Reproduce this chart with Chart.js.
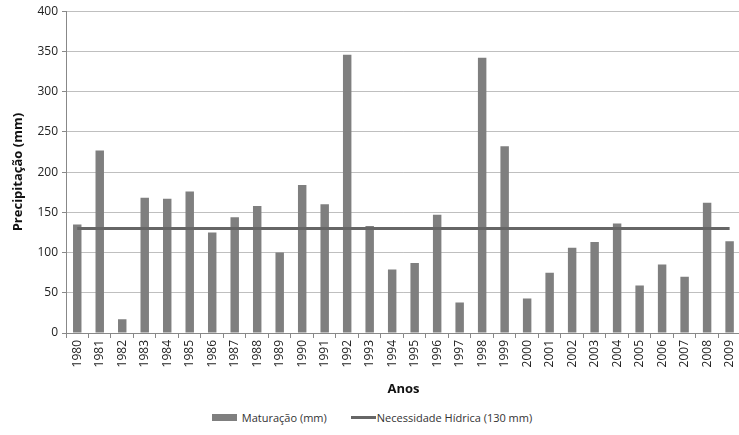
<!DOCTYPE html>
<html>
<head>
<meta charset="utf-8">
<script src="https://cdn.jsdelivr.net/npm/chart.js@4"></script>
<style>
  html, body { margin: 0; padding: 0; background: #fff; overflow: hidden; }
  #wrap { position: relative; width: 746px; height: 400px; }
  #legend {
    position: absolute; left: 0; top: 410px; width: 744px;
    display: flex; justify-content: center; align-items: center;
    font-family: "Open Sans", "Liberation Sans", sans-serif; font-size: 11px; color: #333;
  }
  .legend-item { display: flex; align-items: center; margin: 0 12px; }
</style>
</head>
<body>
<div id="wrap"><canvas id="chuvaChart" width="746" height="400"></canvas></div>
<div id="legend"></div>
<script>
// dados
const anos = ['1980', '1981', '1982', '1983', '1984', '1985', '1986', '1987', '1988', '1989',
  '1990', '1991', '1992', '1993', '1994', '1995', '1996', '1997', '1998', '1999',
  '2000', '2001', '2002', '2003', '2004', '2005', '2006', '2007', '2008', '2009'];
const maturacao = [135, 227, 17, 168, 167, 176, 125, 144, 158, 100,
  184, 160, 346, 133, 79, 87, 147, 38, 342, 232,
  43, 75, 106, 113, 136, 59, 85, 70, 162, 114];
const necessidade = anos.map(() => 130);
const yTicks = [0, 50, 100, 150, 200, 250, 300, 350, 400];

const barColor = '#7f7f7f';
const lineColor = '#666666';
const fontFam = '"Open Sans", "Liberation Sans", sans-serif';

const ctx = document.getElementById('chuvaChart').getContext('2d');

new Chart(ctx, {
  data: {
    labels: anos,
    datasets: [
      {
        type: 'line',
        label: 'Necessidade Hídrica (130 mm)',
        data: necessidade,
        borderColor: lineColor,
        borderWidth: 3,
        pointRadius: 0,
        order: 0,
      },
      {
        type: 'bar',
        label: 'Maturação (mm)',
        data: maturacao,
        backgroundColor: barColor,
        categoryPercentage: 0.8,
        barPercentage: 0.47,
        order: 1,
      },
    ],
  },
  options: {
    responsive: false,
    animation: false,
    layout: { padding: { top: 10, right: 0, bottom: 0, left: 0 } },
    plugins: {
      legend: { display: false },
      tooltip: { enabled: false },
    },
    scales: {
      x: {
        offset: true,
        grid: { drawOnChartArea: false, drawTicks: true, tickLength: 5, color: '#888', offset: true },
        border: { color: '#888' },
        ticks: {
          minRotation: 90, maxRotation: 90, autoSkip: false,
          color: '#222', font: { family: fontFam, size: 12 }, padding: 2,
        },
        title: {
          display: true, text: 'Anos', color: '#111',
          font: { family: fontFam, size: 13, weight: 'bold' },
          padding: { top: 0, bottom: 3 },
        },
        afterFit: (scale) => { scale.height = 67; },
      },
      y: {
        min: 0, max: 400,
        afterBuildTicks: (scale) => { scale.ticks = yTicks.map((v) => ({ value: v })); },
        grid: { color: '#bfbfbf', tickLength: 4, tickColor: '#888' },
        border: { color: '#888' },
        ticks: { color: '#222', font: { family: fontFam, size: 12 }, padding: 4 },
        title: {
          display: true, text: 'Precipitação (mm)', color: '#111',
          font: { family: fontFam, size: 13, weight: 'bold' },
          padding: { top: 10, bottom: 4 },
        },
        afterFit: (scale) => { scale.width = 66; },
      },
    },
  },
});

// legenda em html
const legendBox = document.getElementById('legend');
const itens = [
  { nome: 'Maturação (mm)', cor: barColor, h: '7px', gap: '5px' },
  { nome: 'Necessidade Hídrica (130 mm)', cor: lineColor, h: '3px', gap: '1px' },
];
itens.forEach((item) => {
  const el = document.createElement('div');
  el.classList.add('legend-item');
  const mark = document.createElement('div');
  mark.style.width = '25px';
  mark.style.height = item.h;
  mark.style.backgroundColor = item.cor;
  mark.style.marginRight = item.gap;
  const txt = document.createElement('span');
  txt.textContent = item.nome;
  el.appendChild(mark);
  el.appendChild(txt);
  legendBox.appendChild(el);
});
</script>
</body>
</html>
